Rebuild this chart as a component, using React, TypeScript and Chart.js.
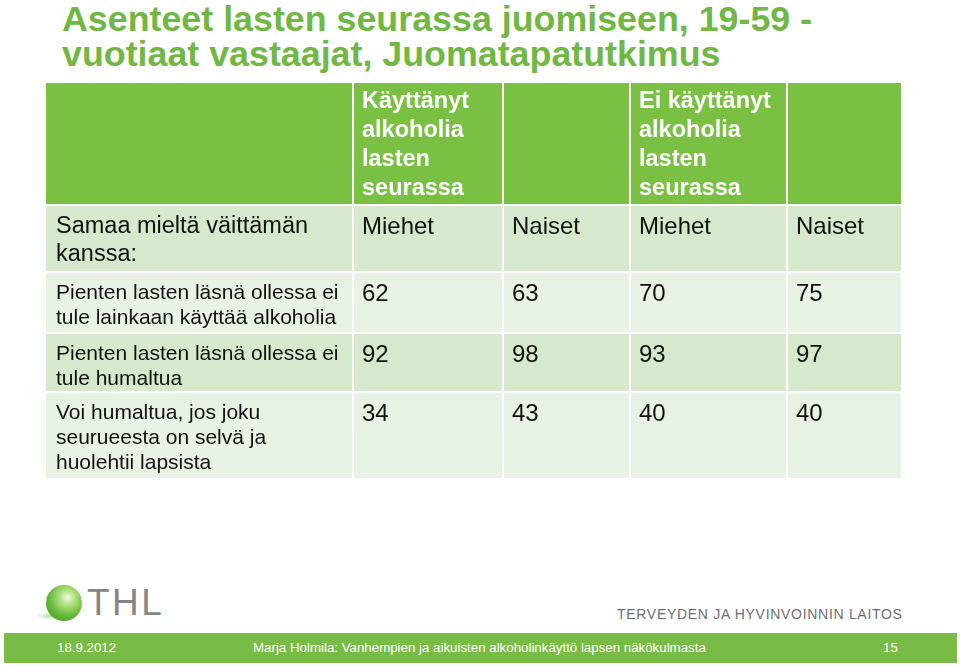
import React, { useEffect, useRef } from "react";
import { Chart, registerables } from "chart.js";

Chart.register(...registerables);

// ---------- data ----------
const titleLines = [
  "Asenteet lasten seurassa juomiseen, 19-59 -",
  "vuotiaat vastaajat, Juomatapatutkimus",
];
const groupHeaders = [
  "Käyttänyt\nalkoholia\nlasten\nseurassa",
  "",
  "Ei käyttänyt\nalkoholia\nlasten\nseurassa",
  "",
];
const subHeaderLabel = "Samaa mieltä väittämän\nkanssa:";
const genderLabels = ["Miehet", "Naiset", "Miehet", "Naiset"];
const statements = [
  "Pienten lasten läsnä ollessa ei\ntule lainkaan käyttää alkoholia",
  "Pienten lasten läsnä ollessa ei\ntule humaltua",
  "Voi humaltua, jos joku\nseurueesta on selvä ja\nhuolehtii lapsista",
];
const usedMen = [62, 92, 34];
const usedWomen = [63, 98, 43];
const notUsedMen = [70, 93, 40];
const notUsedWomen = [75, 97, 40];
const seriesNames = [
  "Käyttänyt – Miehet",
  "Käyttänyt – Naiset",
  "Ei käyttänyt – Miehet",
  "Ei käyttänyt – Naiset",
];
const footerDate = "18.9.2012";
const footerText =
  "Marja Holmila: Vanhempien ja aikuisten alkoholinkäyttö lapsen näkökulmasta";
const footerPage = "15";

// ---------- layout (table units) ----------
const COL_EDGES = [0, 307, 457, 584, 741, 855];
const ROW_EDGES = [0, 122, 189, 250, 309, 395];
const FONT = "'Liberation Sans', Arial, Helvetica, sans-serif";
const GREEN = "#7ac143";
const ROW_FILLS = [GREEN, "#d6e9cd", "#e9f3e5", "#d6e9cd", "#e9f3e5"];

function drawLines(
  ctx: CanvasRenderingContext2D,
  text: string,
  x: number,
  y: number,
  lineH: number,
  font: string,
  color: string
) {
  ctx.font = font;
  ctx.fillStyle = color;
  ctx.textAlign = "left";
  ctx.textBaseline = "middle";
  text.split("\n").forEach((line, i) => ctx.fillText(line, x, y + i * lineH));
}

const tablePlugin = {
  id: "tablePlugin",
  beforeDatasetsDraw(chart: any) {
    const ctx: CanvasRenderingContext2D = chart.ctx;
    const xs = chart.scales.x;
    const ys = chart.scales.y;
    const X = (v: number) => xs.getPixelForValue(v);
    const Y = (v: number) => ys.getPixelForValue(v);
    const x0 = X(COL_EDGES[0]);
    const x1 = X(COL_EDGES[COL_EDGES.length - 1]);
    const y0 = Y(ROW_EDGES[0]);
    const y1 = Y(ROW_EDGES[ROW_EDGES.length - 1]);
    ctx.save();
    for (let r = 0; r < ROW_EDGES.length - 1; r++) {
      ctx.fillStyle = ROW_FILLS[r];
      const ya = Y(ROW_EDGES[r]);
      const yb = Y(ROW_EDGES[r + 1]);
      ctx.fillRect(x0, ya, x1 - x0, yb - ya);
    }
    ctx.strokeStyle = "#ffffff";
    ctx.lineWidth = 2;
    for (let c = 1; c < COL_EDGES.length - 1; c++) {
      ctx.beginPath();
      ctx.moveTo(X(COL_EDGES[c]), y0);
      ctx.lineTo(X(COL_EDGES[c]), y1);
      ctx.stroke();
    }
    for (let r = 1; r < ROW_EDGES.length - 1; r++) {
      ctx.beginPath();
      ctx.moveTo(x0, Y(ROW_EDGES[r]));
      ctx.lineTo(x1, Y(ROW_EDGES[r]));
      ctx.stroke();
    }
    // header
    groupHeaders.forEach((h, c) => {
      if (!h) return;
      drawLines(ctx, h, X(COL_EDGES[c + 1]) + 9, Y(ROW_EDGES[0]) + 19, 28.7, `bold 23.5px ${FONT}`, "#ffffff");
    });
    // sub header
    drawLines(ctx, subHeaderLabel, X(COL_EDGES[0]) + 10, Y(ROW_EDGES[1]) + 22, 28, `23.5px ${FONT}`, "#111111");
    genderLabels.forEach((g, c) => {
      drawLines(ctx, g, X(COL_EDGES[c + 1]) + 9, Y(ROW_EDGES[1]) + 22, 28, `24px ${FONT}`, "#111111");
    });
    // statements
    statements.forEach((s, r) => {
      drawLines(ctx, s, X(COL_EDGES[0]) + 10, Y(ROW_EDGES[r + 2]) + 21, 25.3, `21px ${FONT}`, "#111111");
    });
    ctx.restore();
  },
  afterDatasetsDraw(chart: any) {
    const ctx: CanvasRenderingContext2D = chart.ctx;
    ctx.save();
    chart.data.datasets.forEach((ds: any, di: number) => {
      const meta = chart.getDatasetMeta(di);
      meta.data.forEach((el: any, i: number) => {
        drawLines(ctx, String(ds.data[i].v), el.x, el.y, 26, `24px ${FONT}`, "#111111");
      });
    });
    ctx.restore();
  },
};

function TableChart() {
  const ref = useRef<HTMLCanvasElement>(null);
  useEffect(() => {
    if (!ref.current) return;
    const series = [usedMen, usedWomen, notUsedMen, notUsedWomen];
    const chart = new Chart(ref.current, {
      type: "scatter",
      data: {
        datasets: series.map((vals, c) => ({
          label: seriesNames[c],
          data: vals.map((v, r) => ({
            x: COL_EDGES[c + 1] + 9,
            y: ROW_EDGES[r + 2] + 22,
            v,
          })),
          pointRadius: 0,
          pointHoverRadius: 0,
          showLine: false,
        })),
      } as any,
      options: {
        animation: false,
        responsive: true,
        maintainAspectRatio: false,
        layout: { padding: 0 },
        events: [],
        plugins: {
          legend: { display: false },
          tooltip: { enabled: false },
          title: { display: false },
        },
        scales: {
          x: { type: "linear", min: COL_EDGES[0], max: COL_EDGES[COL_EDGES.length - 1], display: false },
          y: { type: "linear", min: ROW_EDGES[0], max: ROW_EDGES[ROW_EDGES.length - 1], reverse: true, display: false },
        },
      } as any,
      plugins: [tablePlugin],
    });
    return () => chart.destroy();
  }, []);
  return <canvas ref={ref} />;
}

export default function App() {
  return (
    <div
      style={{
        position: "fixed",
        left: 0,
        top: 0,
        width: 960,
        height: 666,
        background: "#ffffff",
        fontFamily: FONT,
        overflow: "hidden",
      }}
    >
      <div
        style={{
          position: "absolute",
          left: 62,
          top: 2,
          fontSize: 35.8,
          fontWeight: "bold",
          lineHeight: "35px",
          color: "#70b843",
          whiteSpace: "nowrap",
        }}
      >
        {titleLines.map((l, i) => (
          <div key={i}>{l}</div>
        ))}
      </div>
      <div style={{ position: "absolute", left: 46, top: 83, width: 855, height: 395 }}>
        <TableChart />
      </div>
      {/* logo */}
      <div
        style={{
          position: "absolute",
          left: 36,
          top: 612,
          width: 30,
          height: 8,
          borderRadius: "50%",
          background: "radial-gradient(ellipse at center, rgba(120,190,80,0.55), rgba(120,190,80,0) 70%)",
        }}
      />
      <div
        style={{
          position: "absolute",
          left: 46,
          top: 585,
          width: 36,
          height: 36,
          borderRadius: "50%",
          background:
            "radial-gradient(circle at 60% 35%, #f2fbe8 0%, #b5e284 22%, #64b936 58%, #3f8f22 100%)",
        }}
      />
      <div
        style={{
          position: "absolute",
          left: 87,
          top: 581,
          fontSize: 37,
          lineHeight: "44px",
          color: "#858585",
          letterSpacing: 2.5,
        }}
      >
        THL
      </div>
      <div
        style={{
          position: "absolute",
          left: 617,
          top: 605,
          fontSize: 14,
          lineHeight: "18px",
          color: "#6f6f6f",
          letterSpacing: 0.7,
          whiteSpace: "nowrap",
        }}
      >
        TERVEYDEN JA HYVINVOINNIN LAITOS
      </div>
      {/* footer bar */}
      <div
        style={{
          position: "absolute",
          left: 4,
          top: 633,
          width: 953,
          height: 30,
          background: "#78bc45",
          color: "#ffffff",
          fontSize: 13.3,
          lineHeight: "30px",
          whiteSpace: "nowrap",
        }}
      >
        <span style={{ position: "absolute", left: 53 }}>{footerDate}</span>
        <span style={{ position: "absolute", left: 249 }}>{footerText}</span>
        <span style={{ position: "absolute", left: 879 }}>{footerPage}</span>
      </div>
    </div>
  );
}
